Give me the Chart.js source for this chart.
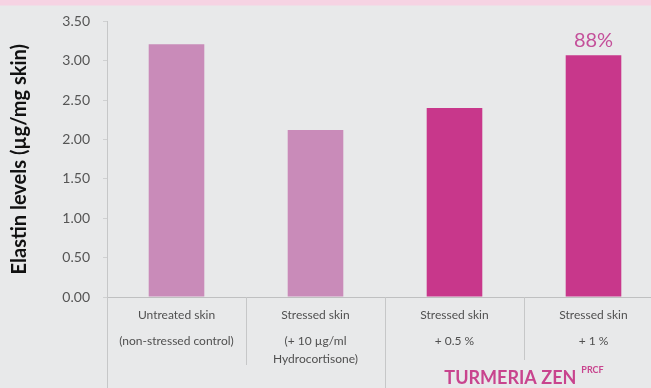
<!DOCTYPE html>
<html>
<head>
<meta charset="utf-8">
<script src="https://cdn.jsdelivr.net/npm/chart.js@4"></script>
<style>
  html, body { margin: 0; padding: 0; }
  body { width: 651px; height: 388px; overflow: hidden; }
  #wrap { position: relative; width: 651px; height: 388px; overflow: hidden;
          background: linear-gradient(to bottom, #f6d3e3 0px, #f6d3e3 5px, #e8e9ea 6px, #e8e9ea 100%); }
  #c { position: absolute; left: 0; top: 0; }
</style>
</head>
<body>
<div id="wrap"><canvas id="c" width="680" height="388"></canvas></div>
<script>
const categories = [
  ["Untreated skin", "(non-stressed control)"],
  ["Stressed skin", "(+ 10 µg/ml", "Hydrocortisone)"],
  ["Stressed skin", "+ 0.5 %"],
  ["Stressed skin", "+ 1 %"]
];
const elastinValues = [3.21, 2.12, 2.40, 3.07];
const yTicks = [0, 0.5, 1, 1.5, 2, 2.5, 3, 3.5];
const barLabels = ["", "", "", "88%"];
const groupLabel = "TURMERIA ZEN";
const groupSup = "PRCF";
const yTitle = "Elastin levels (µg/mg skin)";

const FONT = "Lato, 'Open Sans', sans-serif";

const annotate = {
  id: 'annotate',
  afterDraw(chart) {
    const ctx = chart.ctx;
    const x = chart.scales.x;
    const area = chart.chartArea;
    const n = categories.length;
    const half = (x.getPixelForValue(1) - x.getPixelForValue(0)) / 2;
    ctx.save();
    // separators below axis
    ctx.strokeStyle = '#c6c7c8';
    ctx.lineWidth = 1;
    const sepEnds = [388, 365, 388, 360, 388];
    for (let i = 0; i <= n; i++) {
      const px = Math.round((i < n ? x.getPixelForValue(i) - half : x.getPixelForValue(n - 1) + half)) + 0.5;
      ctx.beginPath();
      ctx.moveTo(px, area.bottom);
      ctx.lineTo(px, sepEnds[i]);
      ctx.stroke();
    }
    // category labels
    ctx.fillStyle = '#505050';
    ctx.font = "12px " + FONT;
    ctx.textAlign = 'center';
    ctx.textBaseline = 'middle';
    const offs = [18, 44, 62];
    categories.forEach((lines, i) => {
      const cx = x.getPixelForValue(i);
      lines.forEach((t, j) => ctx.fillText(t, cx, area.bottom + offs[j]));
    });
    // group label
    const gx = (x.getPixelForValue(2) + x.getPixelForValue(3)) / 2;
    ctx.font = "bold 18px " + FONT;
    const w1 = ctx.measureText(groupLabel).width;
    ctx.font = "bold 9px " + FONT;
    const w2 = ctx.measureText(groupSup).width;
    const total = w1 + 5 + w2;
    let sx = gx - total / 2;
    ctx.fillStyle = '#c8448e';
    ctx.textAlign = 'left';
    ctx.textBaseline = 'alphabetic';
    ctx.font = "bold 18px " + FONT;
    ctx.fillText(groupLabel, sx, 384);
    ctx.font = "bold 9px " + FONT;
    ctx.fillText(groupSup, sx + w1 + 5, 373);
    // bar value labels
    const meta = chart.getDatasetMeta(0);
    ctx.font = "20px " + FONT;
    ctx.fillStyle = '#c4509a';
    ctx.textAlign = 'center';
    ctx.textBaseline = 'middle';
    meta.data.forEach((bar, i) => {
      if (barLabels[i]) ctx.fillText(barLabels[i], bar.x, bar.y - 15);
    });
    ctx.restore();
  }
};

new Chart(document.getElementById('c'), {
  type: 'bar',
  data: {
    labels: categories,
    datasets: [{
      data: elastinValues,
      backgroundColor: ['#c98bb9', '#c98bb9', '#c8378b', '#c8378b'],
      borderWidth: 0,
      categoryPercentage: 1.0,
      barPercentage: 0.4
    }]
  },
  options: {
    responsive: false,
    animation: false,
    events: [],
    layout: { padding: { top: 19, right: 17, bottom: 91, left: 0 } },
    plugins: { legend: { display: false }, tooltip: { enabled: false } },
    scales: {
      x: {
        offset: true,
        ticks: { display: false },
        grid: { display: false, drawTicks: false },
        border: { display: true, color: '#bfc0c1', width: 1 },
        afterFit(s) { s.height = 0; }
      },
      y: {
        min: 0,
        max: 3.5,
        afterBuildTicks(s) { s.ticks = yTicks.map(v => ({ value: v })); },
        ticks: {
          callback: v => Number(v).toFixed(2),
          color: '#555555',
          font: { family: FONT, size: 14 },
          padding: 13
        },
        grid: { drawOnChartArea: false, drawTicks: true, tickLength: 4, color: '#cfd0d1' },
        border: { display: true, color: '#c6c7c8', width: 1 },
        title: {
          display: true,
          text: yTitle,
          color: '#111111',
          font: { family: FONT, size: 20, weight: 'bold' },
          padding: { top: 8, bottom: 0 }
        },
        afterFit(s) { s.width = 107; }
      }
    }
  },
  plugins: [annotate]
});
</script>
</body>
</html>
